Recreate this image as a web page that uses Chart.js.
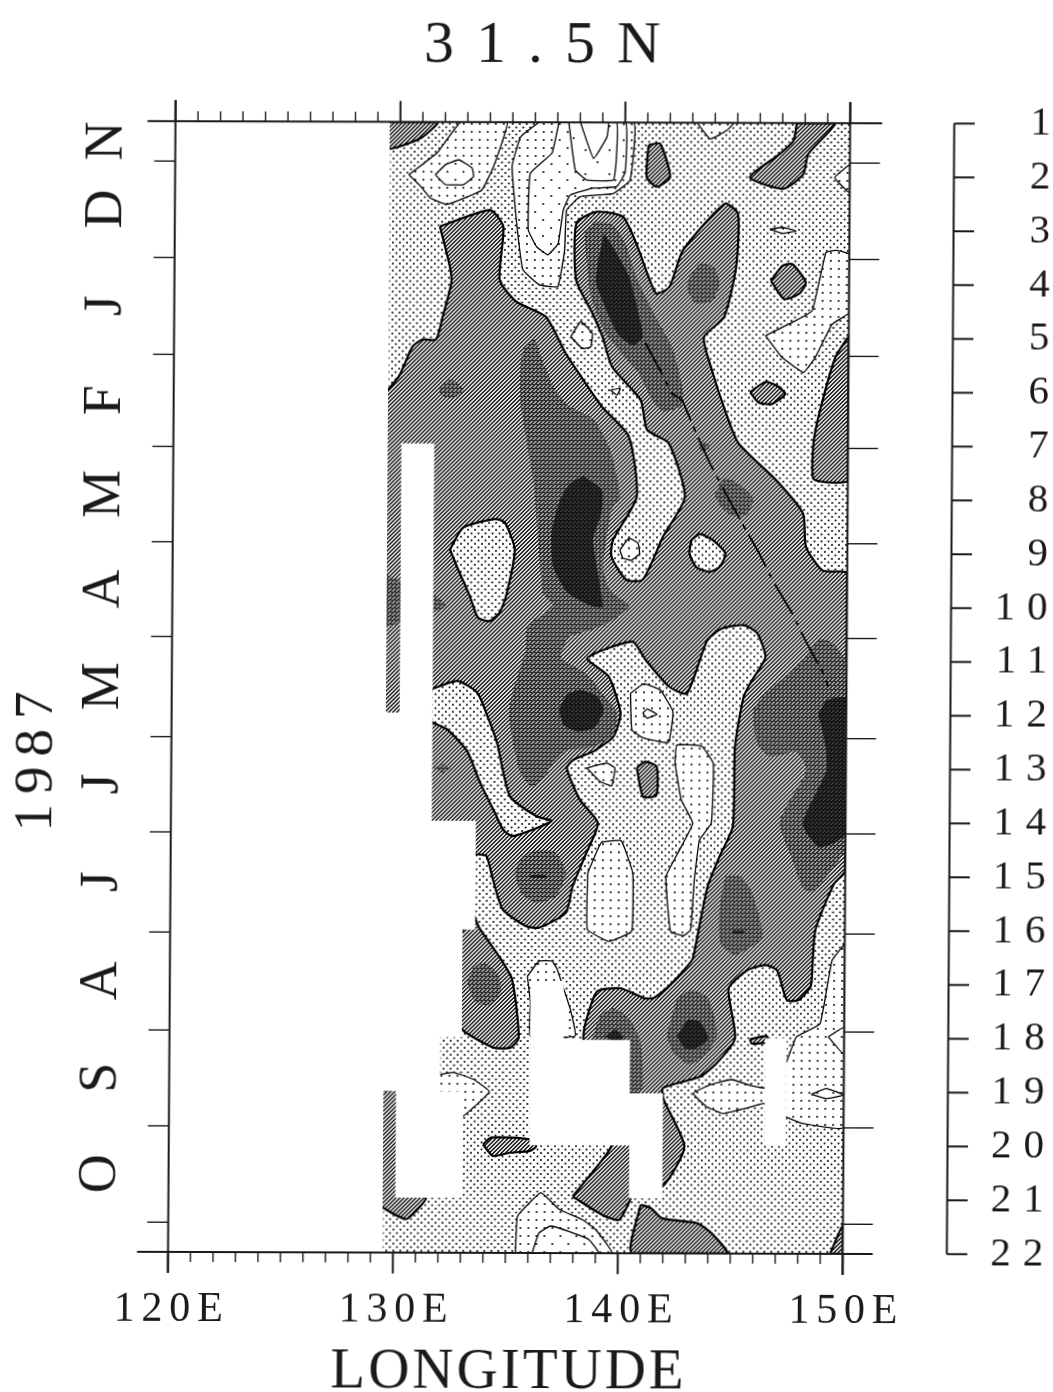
<!DOCTYPE html>
<html>
<head>
<meta charset="utf-8">
<title>31.5N</title>
<script src="https://cdn.jsdelivr.net/npm/chart.js@4"></script>
<style>
  html, body { margin: 0; padding: 0; background: #fff; overflow: hidden; }
  /* the original is a slightly skewed scan */
  #myChart { display: block; transform: matrix(1, 0.003, -0.0066, 1, 0, 0); }
</style>
</head>
<body>
<canvas id="myChart" width="1053" height="1392"></canvas>
<script>
var chartTitle = '31.5N';
var xTitle = 'LONGITUDE';
var yTitle = '1987';
var lonLabels = ['120E', '130E', '140E', '150E'];
var lonMajor = [120, 130, 140, 150];
var lonMinor = [121, 122, 123, 124, 125, 126, 127, 128, 129, 131, 132, 133, 134, 135, 136, 137, 138, 139, 141, 142, 143, 144, 145, 146, 147, 148, 149];
var periods = [1, 2, 3, 4, 5, 6, 7, 8, 9, 10, 11, 12, 13, 14, 15, 16, 17, 18, 19, 20, 21, 22];
var monthNames = ['N', 'D', 'J', 'F', 'M', 'A', 'M', 'J', 'J', 'A', 'S', 'O'];
var monthTicks = [1.74, 3.53, 5.33, 7.04, 8.81, 10.57, 12.43, 14.2, 16.06, 17.88, 19.66, 21.45];

// contours as [longitude, period], lowest layer first
var dataArea = [[129.55,1],[150,1],[150,22],[129.55,22]];

var hatchOne = [
  [[129.4,1],[131.65,1],[130.9,1.3],[129.4,1.5]],
  [[141.04,1.42],[141.56,1.39],[142.01,2.01],[141.41,2.19],[140.97,2.01]],
  [[147.63,1],[149.33,1],[148.15,1.57],[147.93,1.95],[147.04,2.22],[145.56,2.01],[146.89,1.57],[147.48,1.33]],
  [[146.52,3.93],[147.04,3.65],[147.48,3.62],[148.07,3.96],[147.78,4.17],[147.11,4.27]],
  [[145.63,6],[146.3,5.81],[146.82,5.88],[147.19,6.03],[146.59,6.22],[146,6.19]],
  [[150,4.95],[149.41,5.35],[148.74,6.34],[148.46,6.95],[148.46,7.6],[149.05,7.67],[150,7.63]],
  // the large connected area
  [[131.79,2.94],[134.01,2.63],[134.61,2.94],[134.46,3.93],[135.2,4.33],[136.53,4.61],[137.42,5.29],[138.01,5.66],[139.05,6.28],
   [140.25,6.83],[140.62,7.95],[139.58,8.75],[139.51,9.06],[140.17,9.49],[140.91,9.49],[141.8,8.69],[142.76,7.95],[142.02,6.95],[141.06,6.71],[140.76,6.15],
   [139.49,5.54],[139.05,4.98],[138.6,4.55],[137.86,3.93],[137.86,2.87],[138.75,2.66],[139.93,2.75],[140.53,3.25],[141.41,4.17],[142.01,4.05],[142.6,3.37],
   [144.45,2.5],[145.04,2.69],[144.97,3.68],[144.45,4.61],[143.56,4.98],[143.93,5.6],[144.52,6.34],[145.13,6.95],[146.83,7.64],[148.02,8.25],[148.16,8.87],[148.9,9.31],[150,9.37],
   [150,14.88],[149.5,15.13],[148.69,15.99],[148.54,16.92],[148.48,17.05],[147.96,17.29],[147.44,17.29],[147,16.74],[146.48,16.64],[145.66,16.74],[144.85,17.08],
   [145.15,18],[144.33,18.47],[143.59,18.72],[141.96,18.93],[142,19.15],[142.93,20.02],[141.96,20.76],[141.22,20.57],[141.22,19.34],[139.3,19.34],[138.41,18.04],
   [138.49,17.73],[139,17.14],[140.04,17.08],[141.08,17.26],[141.52,17.26],[142.26,17.01],[143.22,16.55],[143.36,16.3],[143.88,15.19],[144.4,14.63],[144.99,14.07],
   [145.06,12.59],[145.43,11.66],[145.8,11.35],[146.39,10.92],[146.02,10.48],[145.43,10.33],[144.46,10.39],[143.8,10.61],[142.91,11.6],[142.1,11.47],[141.06,10.98],
   [140.47,10.64],[138.47,10.95],[139.43,11.29],[139.96,11.97],[139.66,12.4],[138.77,12.68],[137.88,12.84],[137.59,12.99],[138.18,13.58],[138.99,14.01],[138.48,14.57],
   [137.88,15.19],[137.59,15.68],[136.4,15.96],[135.81,15.93],[134.78,15.62],[134.33,15.06],[134.04,14.63],[133.59,14.6],[132.26,14.6],[129.4,14.6],[129.4,14.4],
   [129.4,6.26],[129.4,6.06],[130.02,5.72],[130.61,5.17],[131.05,5.04],[131.65,5.04],[131.94,4.61],[132.31,3.99],[132.24,3.68]],
  [[140.7,12.99],[141.07,12.87],[141.58,12.96],[141.58,13.49],[140.99,13.52]],
  [[133.97,19.99],[134.34,19.86],[136.04,19.89],[136.34,20.02],[136.04,20.11],[135.16,20.14],[134.42,20.2]],
  [[137.97,20.95],[138.71,20.57],[139.3,20.26],[139.67,20.02],[139.67,19.83],[140.78,19.83],[140.63,20.88],[140.04,21.38],[139.3,21.29]],
  [[141,21.1],[141.45,21.16],[141.96,21.35],[143.52,21.44],[144.18,21.63],[144.85,22],[140.63,22]],
  [[149.44,22],[150,21.47],[150,22]],
  [[145.81,18.02],[146.55,17.96],[146.63,18.07],[145.89,18.1]],
  [[133.52,15.74],[133.74,15.96],[134.63,16.49],[135.22,16.92],[135.53,18],[135.16,18.19],[134.42,18.19],[133.08,17.88],[132.34,17.48],[132.34,16.43]],
  [[129.4,19],[131.16,19],[131.46,20.98],[131.09,21.19],[130.57,21.38],[129.4,21.12],[129.4,20.9],[129.4,19.2]]
];

var baseIslands = [
  [[132.33,8.94],[132.92,8.53],[134.33,8.37],[134.77,8.44],[135.21,8.94],[134.84,9.8],[134.55,10.11],[134.1,10.27],[133.59,10.2],[133.22,9.8],[132.7,9.31]],
  [[143.06,8.75],[143.43,8.64],[144.02,8.75],[144.58,9],[144.32,9.25],[143.87,9.34],[143.28,9.25],[142.98,9]],
  [[131.52,11.54],[132.7,11.38],[133.59,11.6],[134.04,12.03],[134.48,12.53],[135.07,13.52],[136.26,13.89],[136.92,13.98],[135.22,14.26],[134.78,14.14],[134.41,13.83],[133.74,13.27],[133.15,12.68],[132.26,12.28],[131.59,12.15],[131,12],[131,11.6]]
];

var levelOne = [
  [[130.39,1.98],[131.65,1.57],[132.68,1],[134.75,1],[134.16,1.82],[133.64,2.26],[132.09,2.53],[131.35,2.41],[130.91,2.19]],
  [[136.16,1],[135.35,1.27],[134.98,1.82],[135.2,2.87],[135.49,3.74],[136.23,4.02],[137.05,4.05],[137.34,3.37],[137.42,2.63],[138.01,2.38],[139.49,2.32],[140.23,2.07],[140.38,1]],
  [[143.19,1],[143.78,1.3],[144.52,1.14],[144.82,1]],
  [[150,1.76],[149.33,2.01],[150,2.29]],
  [[149.41,3.99],[149.63,3.96],[149.92,3.99],[149.63,4.04]],
  [[146.45,2.97],[147.04,2.94],[147.63,3],[147.04,3.05]],
  [[146.3,4.95],[147.63,4.67],[148.37,4.48],[148.96,3.4],[149.41,3.36],[150,3.43],[150,4.52],[149.26,4.73],[148.52,5.35],[148,5.63],[147.04,5.35]],
  [[137.64,4.98],[138.08,4.7],[138.6,4.92],[138.53,5.17],[138.16,5.2]],
  [[139.42,5.97],[139.86,5.94],[139.71,6.06]],
  [[139.88,8.94],[140.29,8.72],[140.69,8.81],[140.76,9.01],[140.39,9.13],[140.02,9.09]],
  [[140.4,11.6],[140.99,11.42],[141.73,11.54],[142.29,11.94],[142.1,12.51],[140.99,12.43],[140.47,12.28]],
  [[142.4,12.9],[142.47,12.56],[143.58,12.58],[144.1,12.9],[144.03,14.01],[143.51,14.32],[143.29,15.06],[143.14,15.99],[142.84,16.1],[142.25,16.02],[142.03,15],[142.62,14.51],[143.21,14.01],[142.69,13.58]],
  [[138.55,14.94],[139.14,14.38],[140.03,14.34],[140.55,14.94],[140.52,16.02],[139.51,16.21],[138.55,15.99]],
  [[138.48,12.99],[139.36,12.9],[139.73,12.99],[139.59,13.32],[139.07,13.24]],
  [[135.9,16.86],[136.41,16.58],[137,16.58],[137.23,16.74],[137.82,17.48],[138.04,17.97],[136.04,17.97],[136.04,17.35]],
  [[131.9,18.7],[132.64,18.65],[133.53,18.78],[134.24,19.01],[133.08,19.46],[131.9,19.46]],
  [[150,16.24],[149.44,16.55],[148.92,17.73],[147.88,17.97],[147.44,18.44],[146.7,18.93],[145.96,18.89],[145,18.77],[144.04,18.87],[143.3,19.03],[143.89,19.27],[144.63,19.4],[145.66,19.3],[146.48,19.21],[147.44,19.46],[148.18,19.58],[150,19.65]],
  [[135.45,22],[135.53,21.32],[136.56,20.88],[137.38,21.19],[138.41,21.38],[139,21.56],[139.74,22]]
];

var levelTwo = [
  [[131.57,1.98],[132.02,1.79],[132.61,1.7],[133.2,1.85],[133.27,2.01],[132.83,2.16],[132.02,2.16]],
  [[137.05,1],[136.75,1.57],[135.79,1.95],[135.72,3],[136.09,3.31],[136.6,3.46],[137.05,3.25],[137.27,2.63],[137.57,2.35],[138.6,2.22],[139.64,2.19],[140.01,1.92],[140.01,1]],
  [[140.95,11.97],[141.14,11.89],[141.58,11.99],[141.14,12.06]],
  [[149.29,17.97],[150,17.79],[150,18.3]],
  [[148.55,19.04],[149.22,18.93],[150,19.05],[149.22,19.12]],
  [[136.19,22],[136.49,21.63],[137,21.5],[137.82,21.6],[138.71,21.75],[139.15,22]]
];

var levelThree = [
  [[137.49,1],[137.79,1.88],[138.31,2.07],[139.49,2.07],[139.61,1.7],[139.61,1]]
];

var levelFour = [
  [[138.01,1],[138.6,1.67],[139.19,1.27],[139.24,1]]
];

var hatchTwo = [
  [[138.23,3.06],[138.75,2.84],[139.49,2.91],[140.01,3.22],[140.53,3.87],[141.41,4.61],[142.15,5.17],[142.67,6.03],[142.52,6.31],[142.39,6.3],[141.8,6.37],[141.28,6.15],[140.67,5.66],[139.79,5.23],[139.19,4.92],[138.53,4.24],[138.31,3.56]],
  [[142.82,3.93],[143.34,3.62],[144,3.68],[144.23,3.99],[143.93,4.3],[143.19,4.36],[142.82,4.11]],
  [[131.79,5.97],[132.31,5.78],[132.9,5.97],[132.46,6.12],[131.94,6.09]],
  [[135.57,5.17],[136.01,5.01],[136.38,5.41],[136.97,5.97],[137.64,6.28],[138.69,6.52],[139.43,7.08],[139.88,7.95],[139.51,8.19],[139.14,9.25],[139.43,9.68],[140.32,9.99],[139.58,10.24],[138.69,10.42],[137.66,10.55],[137.43,10.73],[137.29,10.95],[138.4,11.23],[139.36,11.72],[139.81,11.97],[139.59,12.4],[138.62,12.62],[137.59,12.65],[136.85,12.96],[136.63,13.15],[136.03,13.33],[135.52,13.08],[135.22,12.59],[135,11.97],[135.15,11.6],[135.73,10.79],[135.81,10.36],[136.92,9.99],[136.47,9.74],[136.03,7.7],[135.44,6.27],[135.42,5.47]],
  [[129.4,9.4],[131.59,9.77],[132.18,9.99],[131.59,10.11],[129.4,10.38],[129.4,10.2],[129.4,9.6]],
  [[131.67,12.99],[132.11,12.93],[132.41,13.01],[132.04,13.08]],
  [[135.29,14.94],[135.66,14.63],[136.4,14.51],[137.14,14.57],[137.59,14.94],[137.14,15.37],[136.26,15.5],[135.59,15.31]],
  [[144.4,15.68],[144.69,15],[145.36,15],[145.88,15.31],[146.32,16.12],[145.14,16.46],[144.47,16.24]],
  [[146.24,11.66],[148.02,10.98],[148.83,10.58],[149.42,10.67],[150,11.04],[150,14.45],[148.54,15.28],[148.1,15.19],[147.65,14.69],[147.06,14.01],[147.43,13.64],[148.24,13.02],[147.8,12.68],[146.62,12.77],[146.02,12.5],[145.88,11.91]],
  [[144.09,7.91],[144.46,7.6],[145.13,7.7],[145.8,7.98],[145.5,8.29],[144.83,8.29],[144.32,8.1]],
  [[143.35,7.02],[143.58,6.92],[143.87,7.02],[143.58,7.11]],
  [[133.23,16.98],[133.53,16.67],[134.12,16.64],[134.64,16.86],[134.71,17.17],[134.2,17.39],[133.6,17.35]],
  [[138.71,18.16],[139.15,17.6],[139.74,17.45],[140.41,17.63],[140.93,18.04],[141.08,18.9],[140.78,19.09],[139.3,19.09]],
  [[142.11,17.97],[142.56,17.29],[143.15,17.11],[143.89,17.23],[144.26,17.66],[144.33,17.97],[143.89,18.28],[143.15,18.5],[142.41,18.28]]
];

var hatchThree = [
  [[139.08,3.06],[139.49,3.31],[140.23,3.87],[140.82,4.86],[140.82,5.01],[140.38,5.14],[139.71,4.92],[138.75,3.99],[138.82,3.62]],
  [[138.25,7.57],[139.06,7.82],[139.06,8.25],[138.69,8.75],[139.14,9.99],[138.69,9.99],[137.58,9.74],[136.92,9.25],[136.84,8.63],[137.21,8.01],[137.66,7.7]],
  [[137.22,11.91],[137.59,11.63],[138.18,11.54],[138.92,11.66],[139.22,11.91],[138.77,12.25],[138.03,12.31],[137.44,12.19]],
  [[136,14.98],[136.7,14.98],[136.7,15.03],[136,15.03]],
  [[145,16],[145.5,16],[145.5,16.06],[145,16.06]],
  [[148.76,11.97],[149.13,11.72],[150,11.69],[150,14.2],[148.84,14.45],[148.1,14.01],[149.13,13.02],[149.06,12.53]],
  [[139.37,17.97],[139.82,17.85],[140.19,18],[139.89,18.1]],
  [[142.56,17.97],[143.07,17.66],[143.59,17.7],[143.96,18],[143.44,18.19],[142.93,18.19]]
];

var ridgeAxis = [[140.97,5.1],[141.78,5.72],[142.15,6.03],[142.61,6.15],[143.28,6.8],[143.87,7.33],[144.61,7.91],[145.28,8.41],[146.09,9],[146.68,9.49],[147.57,10.11],[148.16,10.61],[148.98,11.23],[149.2,11.47]];

// cells with no data, the first one is everything west of the data
var gaps = [
  [[129,0.9],[129.53,0.9],[129.53,22.1],[129,22.1]],
  [[130.14,6.97],[131.6,6.97],[131.6,13.98],[133.56,13.98],[133.56,16],[133,16],[133,18],[132.05,18],[132.05,19],[133.08,19],[133.08,20.98],[130.09,20.98],[130.09,19],[129.4,19],[129.4,11.97],[130.14,11.97]],
  [[136.04,16.95],[137.52,16.95],[137.52,18.04],[140.48,18.04],[140.48,19.03],[141.96,19.03],[141.96,20.98],[140.48,20.98],[140.48,20],[136.04,20]],
  [[146.48,18],[147.44,18],[147.44,20],[146.48,20]]
];

var ctx = document.getElementById('myChart').getContext('2d');

function tile(size, paint) {
  var c = document.createElement('canvas');
  c.width = size;
  c.height = size;
  var t = c.getContext('2d');
  t.fillStyle = '#fff';
  t.fillRect(0, 0, size, size);
  paint(t);
  return ctx.createPattern(c, 'repeat');
}

function dots(size, spots) {
  return tile(size, function (t) {
    t.fillStyle = '#111';
    spots.forEach(function (s) {
      t.beginPath();
      t.arc(s[0], s[1], 1.05, 0, Math.PI * 2);
      t.fill();
    });
  });
}

function hatch(dark, light, rows) {
  return tile(4, function (t) {
    for (var y = 0; y < 4; y++) {
      for (var x = 0; x < 4; x++) {
        t.fillStyle = ((x + y) % 4 < 2 || (rows && y % 4 === 0)) ? dark : light;
        t.fillRect(x, y, 1, 1);
      }
    }
  });
}

var fillBase = dots(7, [[1.5, 1.5], [5, 5]]);
var fillOne = dots(8, [[4, 4]]);
var fillTwo = dots(16, [[4, 4], [12, 12]]);
var fillThree = dots(24, [[6, 6], [18, 18]]);
var fillHatchOne = hatch('#222', '#e6e6e6', false);
var fillHatchTwo = hatch('#2a2a2a', '#a8a8a8', true);
var fillHatchThree = hatch('#111', '#3a3a3a', true);

var datasets = [];

function addShapes(shapes, fill, lineWidth, tension) {
  shapes.forEach(function (shape) {
    datasets.push({
      data: shape.concat([shape[0]]).map(function (p) { return { x: p[0], y: p[1] }; }),
      showLine: true,
      fill: 'shape',
      backgroundColor: fill,
      borderColor: lineWidth ? '#000' : 'rgba(0,0,0,0)',
      borderWidth: lineWidth,
      pointRadius: 0,
      tension: tension
    });
  });
}

addShapes([dataArea], fillBase, 0, 0);
addShapes(hatchOne, fillHatchOne, 2.2, 0.2);
addShapes(baseIslands, fillBase, 2.2, 0.2);
addShapes(levelOne, fillOne, 1.3, 0.1);
addShapes(levelTwo, fillTwo, 1.3, 0.1);
addShapes(levelThree, fillThree, 1.3, 0.1);
addShapes(levelFour, '#fff', 1.3, 0.1);
addShapes(hatchTwo, fillHatchTwo, 0, 0.2);
addShapes(hatchThree, fillHatchThree, 0, 0.2);

datasets.push({
  data: ridgeAxis.map(function (p) { return { x: p[0], y: p[1] }; }),
  showLine: true,
  fill: false,
  borderColor: '#000',
  borderWidth: 1.8,
  borderDash: [36, 7, 5, 7],
  pointRadius: 0,
  tension: 0
});

addShapes(gaps, '#fff', 0, 0);

// later shapes paint over earlier ones
datasets.forEach(function (d, i) { d.order = datasets.length - i; });

function putText(c, text, x, y, font, spacing, align, baseline, turned) {
  c.save();
  c.translate(x, y);
  if (turned) c.rotate(-Math.PI / 2);
  c.font = font;
  c.letterSpacing = spacing + 'px';
  c.textAlign = align;
  c.textBaseline = baseline;
  c.fillStyle = '#1a1a1a';
  c.fillText(text, 0, 0);
  c.restore();
}

function segment(c, x1, y1, x2, y2) {
  c.beginPath();
  c.moveTo(x1, y1);
  c.lineTo(x2, y2);
  c.stroke();
}

var frameAndLabels = {
  id: 'frameAndLabels',
  afterDatasetsDraw: function (chart) {
    var c = chart.ctx;
    var x = chart.scales.x;
    var y = chart.scales.y;
    var a = chart.chartArea;

    c.save();
    c.strokeStyle = '#1a1a1a';
    c.lineWidth = 2;
    segment(c, a.left - 28, a.top, a.right + 32, a.top);
    segment(c, a.left - 31, a.bottom, a.right + 30, a.bottom);
    segment(c, a.left, a.top - 21, a.left, a.bottom + 21);
    segment(c, a.right, a.top - 21, a.right, a.bottom + 21);

    lonMajor.forEach(function (v) {
      var px = x.getPixelForValue(v);
      segment(c, px, a.top - 21, px, a.top);
      segment(c, px, a.bottom, px, a.bottom + 21);
    });
    c.lineWidth = 1.4;
    lonMinor.forEach(function (v) {
      var px = x.getPixelForValue(v);
      segment(c, px, a.top - 10, px, a.top);
      segment(c, px, a.bottom, px, a.bottom + 10);
    });
    monthTicks.forEach(function (v) {
      var py = y.getPixelForValue(v);
      segment(c, a.left - 21, py, a.left, py);
      segment(c, a.right, py, a.right + 30, py);
    });

    // separate scale of the period numbers on the right
    c.lineWidth = 2;
    segment(c, 950.5, y.getPixelForValue(periods[0]), 950.5, y.getPixelForValue(periods[periods.length - 1]));
    periods.forEach(function (v) {
      var py = y.getPixelForValue(v);
      segment(c, 950.5, py, 971, py);
      putText(c, String(v), 1059, py, '41px "Liberation Serif"', 12, 'right', 'middle', false);
    });
    c.restore();

    var font = '"Liberation Serif"';
    putText(c, chartTitle, 549, 62, '60px ' + font, 22, 'center', 'alphabetic', false);
    putText(c, xTitle, 513, 1388, '57px ' + font, 3, 'center', 'alphabetic', false);
    putText(c, yTitle, 52, 758, '55px ' + font, 10, 'center', 'alphabetic', true);

    lonMajor.forEach(function (v, i) {
      putText(c, lonLabels[i], x.getPixelForValue(v) + 4, 1322, '42px ' + font, 6.8, 'center', 'alphabetic', false);
    });
    monthNames.forEach(function (name, i) {
      var from = i === 0 ? periods[0] : monthTicks[i - 1];
      var mid = (from + monthTicks[i]) / 2;
      putText(c, name, 118, y.getPixelForValue(mid), '54px ' + font, 0, 'center', 'alphabetic', true);
    });
  }
};

var myChart = new Chart(ctx, {
  type: 'scatter',
  data: { datasets: datasets },
  options: {
    responsive: false,
    animation: false,
    layout: { padding: { left: 171.7, top: 122.3, right: 206.6, bottom: 139.1 } },
    plugins: {
      legend: { display: false },
      tooltip: { enabled: false }
    },
    events: [],
    scales: {
      x: { type: 'linear', min: 120, max: 150, display: false },
      y: { type: 'linear', min: 1, max: 22, reverse: true, display: false }
    }
  },
  plugins: [frameAndLabels]
});
</script>
</body>
</html>
